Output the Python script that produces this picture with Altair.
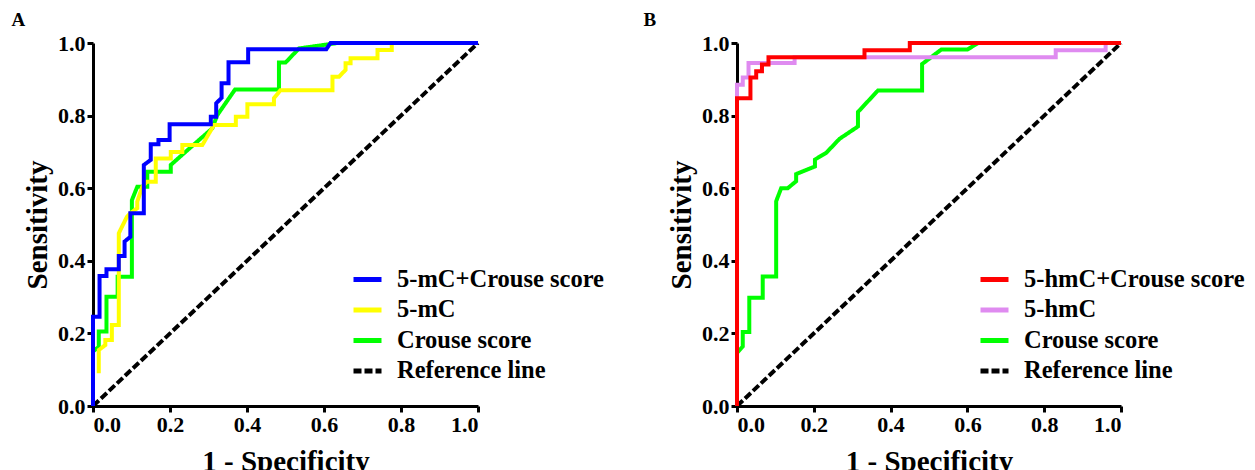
import altair as alt
import pandas as pd

# ---------------- Panel A ----------------
a_names = ["5-mC+Crouse score", "5-mC", "Crouse score", "Reference line"]
a_colors = ["#0000FF", "#FFFF00", "#00FF00", "#000000"]

a_combo_fpr = [0.0, 0.0, 0.017, 0.017, 0.035, 0.035, 0.067, 0.067, 0.082, 0.082, 0.097, 0.097,
               0.132, 0.132, 0.150, 0.150, 0.170, 0.170, 0.199, 0.199, 0.306, 0.306, 0.320, 0.320,
               0.334, 0.334, 0.352, 0.352, 0.403, 0.403, 0.606, 0.617, 1.0]
a_combo_tpr = [0.0, 0.246, 0.246, 0.358, 0.358, 0.377, 0.377, 0.413, 0.413, 0.453, 0.466, 0.531,
               0.531, 0.664, 0.678, 0.721, 0.721, 0.733, 0.733, 0.776, 0.776, 0.797, 0.797, 0.834,
               0.849, 0.889, 0.889, 0.947, 0.947, 0.983, 0.983, 1.0, 1.0]

a_mc_fpr = [0.015, 0.015, 0.032, 0.032, 0.049, 0.049, 0.067, 0.067, 0.088, 0.097, 0.115, 0.115,
            0.128, 0.140, 0.163, 0.163, 0.202, 0.202, 0.232, 0.232, 0.284, 0.314, 0.371, 0.371,
            0.401, 0.401, 0.470, 0.470, 0.487, 0.622, 0.622, 0.639, 0.656, 0.656, 0.669, 0.669,
            0.739, 0.739, 0.776, 0.776, 1.0]
a_mc_tpr = [0.090, 0.154, 0.168, 0.182, 0.182, 0.223, 0.223, 0.476, 0.521, 0.531, 0.545, 0.563,
            0.604, 0.618, 0.618, 0.682, 0.682, 0.700, 0.700, 0.719, 0.719, 0.774, 0.774, 0.797,
            0.797, 0.831, 0.831, 0.848, 0.870, 0.870, 0.907, 0.907, 0.926, 0.944, 0.944, 0.958,
            0.958, 0.981, 0.981, 1.0, 1.0]

a_crouse_fpr = [0.0, 0.0, 0.015, 0.015, 0.035, 0.035, 0.064, 0.064, 0.101, 0.101, 0.115, 0.141,
                0.141, 0.202, 0.202, 0.236, 0.310, 0.322, 0.369, 0.483, 0.483, 0.500, 0.535,
                0.635, 1.0]
a_crouse_tpr = [0.0, 0.150, 0.163, 0.205, 0.205, 0.301, 0.301, 0.356, 0.356, 0.567, 0.604, 0.604,
                0.645, 0.645, 0.664, 0.696, 0.765, 0.800, 0.872, 0.872, 0.946, 0.946, 0.985,
                1.0, 1.0]

# ---------------- Panel B ----------------
b_names = ["5-hmC+Crouse score", "5-hmC", "Crouse score", "Reference line"]
b_colors = ["#FF0000", "#DF8BF0", "#00FF00", "#000000"]

b_combo_fpr = [0.0, 0.0, 0.035, 0.035, 0.050, 0.050, 0.065, 0.065, 0.082, 0.082, 0.332, 0.332,
               0.450, 0.450, 1.0]
b_combo_tpr = [0.0, 0.848, 0.848, 0.905, 0.905, 0.922, 0.922, 0.941, 0.941, 0.961, 0.961, 0.980,
               0.980, 1.0, 1.0]

b_hmc_fpr = [0.0, 0.0, 0.0, 0.015, 0.015, 0.030, 0.030, 0.150, 0.150, 0.830, 0.830, 0.960,
             0.960, 1.0]
b_hmc_tpr = [0.0, 0.858, 0.885, 0.885, 0.905, 0.905, 0.945, 0.945, 0.961, 0.961, 0.980, 0.980,
             1.0, 1.0]

b_crouse_fpr = [0.0, 0.0, 0.015, 0.015, 0.032, 0.032, 0.067, 0.067, 0.102, 0.102, 0.115, 0.132,
                0.154, 0.154, 0.203, 0.203, 0.232, 0.267, 0.315, 0.315, 0.367, 0.482, 0.482,
                0.532, 0.600, 0.628, 1.0]
b_crouse_tpr = [0.0, 0.146, 0.164, 0.204, 0.204, 0.298, 0.298, 0.357, 0.357, 0.564, 0.600, 0.600,
                0.619, 0.639, 0.660, 0.679, 0.697, 0.736, 0.770, 0.810, 0.869, 0.869, 0.942,
                0.982, 0.982, 1.0, 1.0]

ref_fpr = [0.0, 1.0]
ref_tpr = [0.0, 1.0]

tick_values = [0.0, 0.2, 0.4, 0.6, 0.8, 1.0]
dash_range = [[1, 0], [1, 0], [1, 0], [8, 3]]

FONT = "Liberation Serif"


def make_df(fpr, tpr, name):
    return pd.DataFrame({"fpr": fpr, "tpr": tpr, "series": name,
                         "idx": list(range(len(fpr)))})


def panel(curves, names, colors, letter, title_dx, lx, ly, width, height):
    legend = alt.Legend(title=None, orient="none", legendX=lx, legendY=ly,
                        symbolType="stroke", symbolSize=784, symbolStrokeWidth=5,
                        labelFont=FONT, labelFontWeight="bold", labelFontSize=24.5,
                        labelColor="black", labelOffset=13, rowPadding=2.5, padding=0,
                        labelLimit=400)
    x = alt.X("fpr:Q", scale=alt.Scale(domain=[0, 1], nice=False, zero=False),
              axis=alt.Axis(title="1 - Specificity", values=tick_values, format=".1f",
                            titlePadding=12))
    y = alt.Y("tpr:Q", scale=alt.Scale(domain=[0, 1], nice=False, zero=False),
              axis=alt.Axis(title="Sensitivity", values=tick_values, format=".1f",
                            titlePadding=5))
    color = alt.Color("series:N", scale=alt.Scale(domain=names, range=colors), legend=legend)
    dash = alt.StrokeDash("series:N", scale=alt.Scale(domain=names, range=dash_range),
                          legend=legend)
    layers = []
    for df in curves:
        layers.append(
            alt.Chart(df).mark_line(strokeWidth=4, clip=False).encode(
                x=x, y=y, color=color, strokeDash=dash, order="idx:Q")
        )
    return alt.layer(*layers).properties(
        width=width, height=height,
        title=alt.TitleParams(letter, anchor="start", frame="bounds", dx=title_dx, offset=2,
                              font=FONT, fontSize=19, fontWeight="bold", color="black"),
    )


panel_a = panel(
    [make_df(ref_fpr, ref_tpr, a_names[3]),
     make_df(a_crouse_fpr, a_crouse_tpr, a_names[2]),
     make_df(a_mc_fpr, a_mc_tpr, a_names[1]),
     make_df(a_combo_fpr, a_combo_tpr, a_names[0])],
    a_names, a_colors, "A", -12, 258, 220, 385, 363)

panel_b = panel(
    [make_df(ref_fpr, ref_tpr, b_names[3]),
     make_df(b_crouse_fpr, b_crouse_tpr, b_names[2]),
     make_df(b_hmc_fpr, b_hmc_tpr, b_names[1]),
     make_df(b_combo_fpr, b_combo_tpr, b_names[0])],
    b_names, b_colors, "B", -24, 241, 220, 384, 363)

chart = alt.hconcat(panel_a, panel_b, spacing=39).resolve_scale(
    color="independent", strokeDash="independent"
).resolve_legend(
    color="independent", strokeDash="independent"
).properties(
    padding={"left": 3, "top": 3, "right": 0, "bottom": 0}
).configure_view(stroke=None).configure_axis(
    grid=False, domainColor="black", domainWidth=3, tickColor="black", tickWidth=3,
    tickSize=6, labelFont=FONT, labelFontWeight="bold", labelFontSize=22,
    labelColor="black", labelPadding=2, titleFont=FONT, titleFontWeight="bold",
    titleFontSize=29, titleColor="black"
).configure_legend(symbolStrokeColor="black")

chart.save("out.html", embed_options={"renderer": "svg", "actions": False})
